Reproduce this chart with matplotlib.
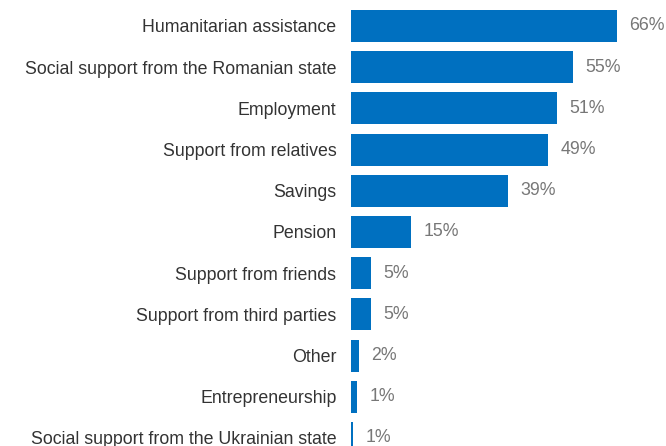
import matplotlib
matplotlib.use("Agg")
import matplotlib.pyplot as plt

categories = [
    "Humanitarian assistance",
    "Social support from the Romanian state",
    "Employment",
    "Support from relatives",
    "Savings",
    "Pension",
    "Support from friends",
    "Support from third parties",
    "Other",
    "Entrepreneurship",
    "Social support from the Ukrainian state",
]
values = [66, 55, 51, 49, 39, 15, 5, 5, 2, 1.4, 0.6]
value_labels = ["66%", "55%", "51%", "49%", "39%", "15%", "5%", "5%", "2%", "1%", "1%"]

W, H = 666, 446
fig = plt.figure(figsize=(W / 100, H / 100), dpi=100)
left_px = 351
ax = fig.add_axes([left_px / W, 0, 1 - left_px / W, 1])

px_per_unit = 4.03
row_px = 41.2
first_center_px = 26

ypos = list(range(len(categories)))
bars = ax.barh(ypos, values, height=32 / row_px, color="#0070C0")
ax.set_xlim(0, (W - left_px) / px_per_unit)
ax.set_ylim((H - first_center_px) / row_px, -first_center_px / row_px)

ax.set_yticks(ypos)
ax.set_yticklabels(categories, fontfamily="Liberation Sans", fontsize=12.8, color="#333333")
ax.tick_params(axis="y", length=0, pad=10.5)
ax.set_xticks([])
for s in ax.spines.values():
    s.set_visible(False)

ax.bar_label(bars, labels=value_labels, padding=9, fontfamily="Liberation Sans",
             fontsize=12.8, color="#777777")

fig.savefig("out.png", dpi=100)
